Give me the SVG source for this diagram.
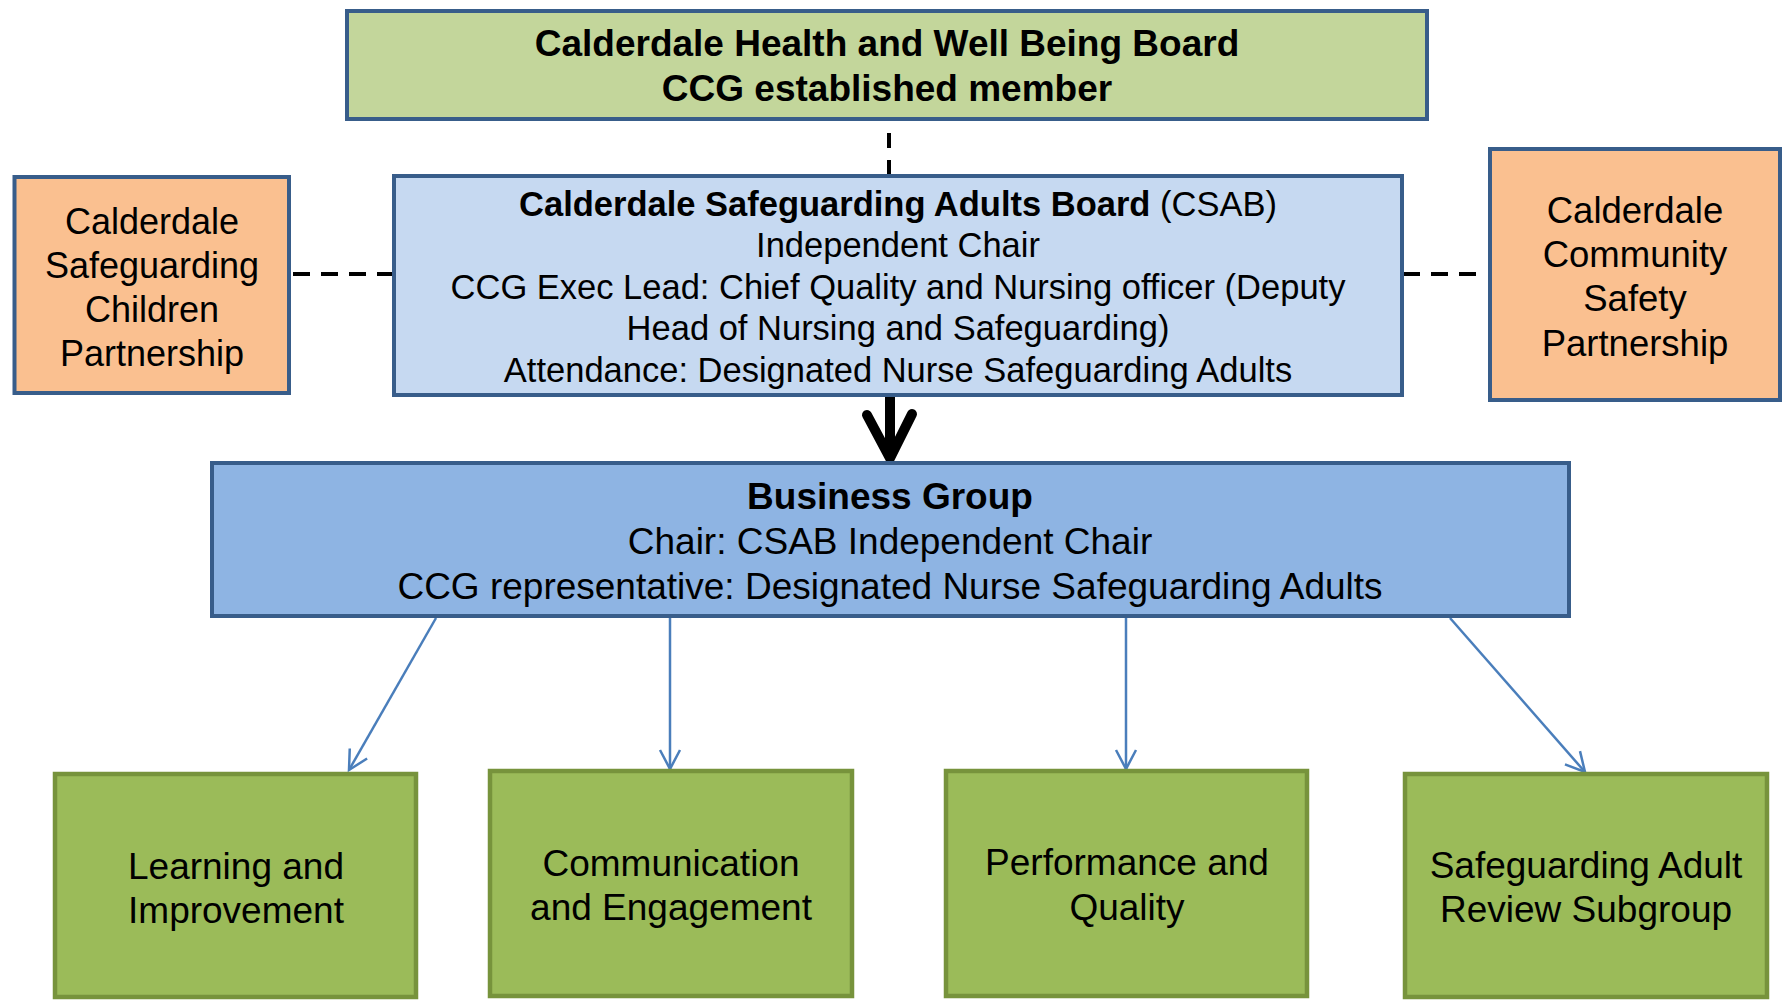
<svg xmlns="http://www.w3.org/2000/svg" width="1787" height="1000" viewBox="0 0 1787 1000">
<style>
text{font-family:"Liberation Sans",Arial,sans-serif;fill:#000;text-anchor:middle}
.b{font-weight:bold}
.box{stroke:#385D8A;stroke-width:4}
.g{fill:#9BBB59;stroke:#77933C;stroke-width:4.5}
.dash{stroke:#000;stroke-width:4;fill:none}
.thin{stroke:#4A7EBB;stroke-width:2.5;fill:none;marker-end:url(#open)}
</style>
<defs>
<marker id="open" markerUnits="userSpaceOnUse" viewBox="-22 -12 26 24" refX="0" refY="0" markerWidth="26" markerHeight="24" orient="auto">
<path d="M-19,-10 L0,0 L-19,10" fill="none" stroke="#4A7EBB" stroke-width="2.5"/>
</marker>
</defs>
<rect width="1787" height="1000" fill="#fff"/>
<g id="connectors">
<line class="dash" x1="889" y1="175" x2="889" y2="121" stroke-dasharray="15 12"/>
<line class="dash" x1="293" y1="274" x2="393" y2="274" stroke-dasharray="17 11"/>
<line class="dash" x1="1403" y1="274" x2="1476" y2="274" stroke-dasharray="17 11"/>
<line x1="890" y1="396" x2="890" y2="452" stroke="#000" stroke-width="10"/>
<path d="M867,415 L890,458 L912,414" fill="none" stroke="#000" stroke-width="10" stroke-linecap="round" stroke-linejoin="miter"/>
<line class="thin" x1="436" y1="618" x2="349" y2="770"/>
<line class="thin" x1="670" y1="618" x2="670" y2="769"/>
<line class="thin" x1="1126" y1="617" x2="1126" y2="769"/>
<line class="thin" x1="1450" y1="618" x2="1585" y2="772"/>
</g>
<g id="hwb">
<rect class="box" x="347" y="11" width="1080" height="108" fill="#C3D69B"/>
<text class="b" x="887" y="56" font-size="37">Calderdale Health and Well Being Board</text>
<text class="b" x="887" y="101" font-size="37">CCG established member</text>
</g>
<g id="csab">
<rect class="box" x="394" y="176" width="1008" height="219" fill="#C6D9F1"/>
<text x="898" y="216" font-size="34.5"><tspan class="b">Calderdale Safeguarding Adults Board</tspan> (CSAB)</text>
<text x="898" y="257" font-size="34.5">Independent Chair</text>
<text x="898" y="299" font-size="34.5">CCG Exec Lead: Chief Quality and Nursing officer (Deputy</text>
<text x="898" y="340" font-size="34.5">Head of Nursing and Safeguarding)</text>
<text x="898" y="382" font-size="34.5">Attendance: Designated Nurse Safeguarding Adults</text>
</g>
<g id="cscp">
<rect class="box" x="14.5" y="177" width="274.5" height="216" fill="#FAC090"/>
<text x="152" y="234" font-size="36">Calderdale</text>
<text x="152" y="278" font-size="36">Safeguarding</text>
<text x="152" y="322" font-size="36">Children</text>
<text x="152" y="366" font-size="36">Partnership</text>
</g>
<g id="ccsp">
<rect class="box" x="1490" y="149" width="290" height="251" fill="#FAC090"/>
<text x="1635" y="223" font-size="36.5">Calderdale</text>
<text x="1635" y="267" font-size="36.5">Community</text>
<text x="1635" y="311" font-size="36.5">Safety</text>
<text x="1635" y="356" font-size="36.5">Partnership</text>
</g>
<g id="business">
<rect class="box" x="212" y="463" width="1357" height="153" fill="#8EB4E3"/>
<text class="b" x="890" y="509" font-size="37">Business Group</text>
<text x="890" y="554" font-size="37">Chair: CSAB Independent Chair</text>
<text x="890" y="599" font-size="37">CCG representative: Designated Nurse Safeguarding Adults</text>
</g>
<g id="learning">
<rect class="g" x="55" y="774" width="361" height="223"/>
<text x="236" y="879" font-size="37">Learning and</text>
<text x="236" y="923" font-size="37">Improvement</text>
</g>
<g id="communication">
<rect class="g" x="490" y="771" width="362" height="225"/>
<text x="671" y="876" font-size="37">Communication</text>
<text x="671" y="920" font-size="37">and Engagement</text>
</g>
<g id="performance">
<rect class="g" x="946" y="771" width="361" height="225"/>
<text x="1127" y="875" font-size="37">Performance and</text>
<text x="1127" y="920" font-size="37">Quality</text>
</g>
<g id="sar">
<rect class="g" x="1405" y="774" width="362" height="223"/>
<text x="1586" y="878" font-size="37">Safeguarding Adult</text>
<text x="1586" y="922" font-size="37">Review Subgroup</text>
</g>
</svg>
